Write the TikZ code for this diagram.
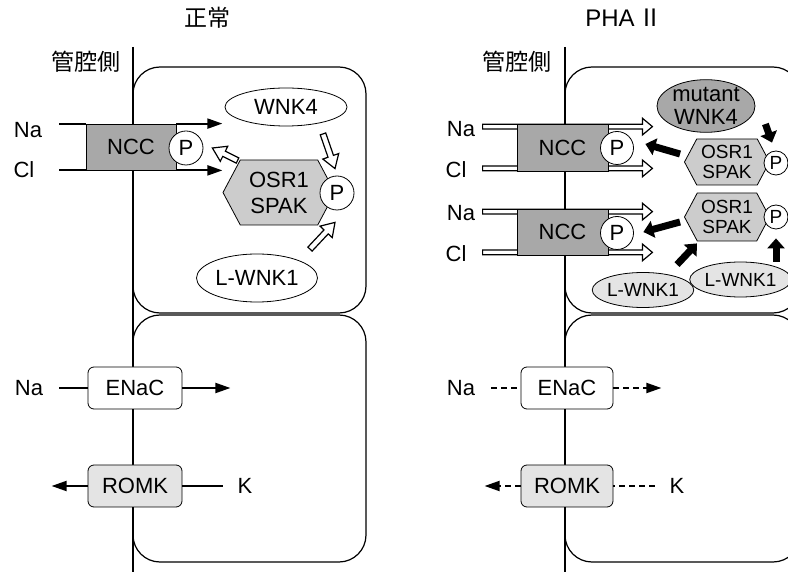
\documentclass[tikz,border=0pt]{standalone}
\usepackage{fontspec}
\setmainfont{Liberation Sans}
\newfontfamily\jpfont{Noto Sans CJK JP}
\usepackage{tikz}
\usetikzlibrary{calc,arrows.meta,shapes.geometric,shapes.symbols,positioning,backgrounds}
\definecolor{nccGray}{RGB}{168,168,168}
\definecolor{osrGray}{RGB}{204,204,204}
\definecolor{paleGray}{RGB}{228,228,228}

% hollow block arrow: shaft half width, head half width, head length, tail, tip
\newcommand\hollowarrow[5]{%
  \coordinate (ha-t) at (#4);
  \coordinate (ha-p) at (#5);
  \coordinate (ha-b) at ($(ha-p)!#3!(ha-t)$);
  \filldraw[fill=white,line width=0.6pt,line join=miter]
    ($(ha-t)!#1!90:(ha-p)$)--($(ha-b)!#1!90:(ha-p)$)--($(ha-b)!#2!90:(ha-p)$)
    --(ha-p)--($(ha-b)!#2!-90:(ha-p)$)--($(ha-b)!#1!-90:(ha-p)$)
    --($(ha-t)!#1!-90:(ha-p)$)--cycle;}

\begin{document}
\begin{tikzpicture}[x=0.5pt,y=-0.5pt,
  font=\fontsize{11}{13}\selectfont,
  jp/.style={font=\fontsize{11.5}{13}\selectfont\jpfont},
  sm/.style={font=\fontsize{9.5}{10}\selectfont},
  cell/.style={draw,rounded corners=13.5pt,line width=0.6pt},
  memb/.style={line width=0.6pt},
  ncc/.style={rectangle,draw,fill=nccGray,minimum width=45pt,minimum height=23pt,inner sep=0},
  pho/.style={circle,draw,fill=white,minimum size=17pt,inner sep=0},
  kin/.style={ellipse,draw,fill=white,inner sep=0,align=center},
  osr/.style={signal,signal to=west and east,signal pointer angle=124,draw,
              fill=osrGray,inner sep=0,align=center},
  chan/.style={rectangle,rounded corners=3pt,draw,minimum width=47pt,minimum height=21pt,inner sep=0},
  ion/.style={line width=1pt},
  ionarr/.style={line width=1pt,-{Triangle[length=7.5pt,width=5pt]}},
  leak/.style={line width=1pt,dash pattern=on 3pt off 2pt},
  fat/.style={line width=3.5pt,-{Triangle[length=5pt,width=8.5pt]}}
]
  \useasboundingbox (0,0) rectangle (788,572);
  \clip (0,0) rectangle (788,572);

  % ── normal ──
  \node[jp](ttlL) at (207,18) {正常};
  \node[jp](lumL) at (86,62) {管腔側};
  \draw[memb](133,47)--(133,572);
  \draw[cell](133,67) rectangle (366,313);
  \draw[cell](133,315) rectangle (366,562);

  \node[ncc](nccL) at (131,147) {NCC};
  \node[pho](pNL) at (186,148) {P};
  \node(naL) at (28,130) {Na};
  \node(clL) at (24,170) {Cl};
  \draw[ion,shorten <=5pt](naL.east |- nccL.north west)--(nccL.north west);
  \draw[ionarr](nccL.north east)--++(46,0);
  \draw[ion,shorten <=8.8pt](clL.east |- nccL.south west)--(nccL.south west);
  \draw[ionarr](nccL.south east)--++(46,0);

  \node[kin,minimum width=61pt,minimum height=19pt](wnkL) at (286,107) {WNK4};
  \node[osr,minimum width=56pt,minimum height=32.5pt](osrL) at (279,192.5) {OSR1\\SPAK};
  \node[pho](pOL) at (337,193) {P};
  \node[kin,minimum width=60.5pt,minimum height=24pt](lwL) at (257,278) {L-WNK1};

  \hollowarrow{1.45pt}{4.2pt}{6.5pt}{$(osrL.west)+(15,-32)$}{$(pNL.east)+(9,0)$}
  \hollowarrow{1.45pt}{4.2pt}{6.5pt}{$(wnkL.south)+(37,7.5)$}{$(pOL.north)+(-2,-7)$}
  \hollowarrow{1.45pt}{4.2pt}{6.5pt}{$(lwL.north)+(53,-4.5)$}{$(pOL.south)+(-2,12)$}

  \node[chan,fill=white](enacL) at (135,388) {ENaC};
  \node[chan,fill=paleGray](romkL) at (135,486) {ROMK};
  \node(naEL) at (29,388) {Na};
  \node(kL) at (245,486) {K};
  \draw[ion,shorten <=4.5pt](naEL)--(enacL);
  \draw[ionarr](enacL.east)--++(48,0);
  \draw[ionarr](romkL.west)--++(-36,0);
  \draw[ion,shorten <=4pt](kL)--(romkL);

  % ── PHA II ──
  \node(ttlR) at (624,18) {\fontsize{12}{13}\selectfont PHA\,{\jpfont Ⅱ}};
  \node[jp](lumR) at (517,62) {管腔側};
  \draw[memb](565,47)--(565,572);
  \draw[cell](565,67) rectangle (800,313);
  \draw[cell](565,315) rectangle (800,562);

  \node[ncc,minimum width=45.5pt,minimum height=23.5pt](nccR1) at (562.5,147.5) {NCC};
  \node[ncc,minimum width=45.5pt,minimum height=23pt](nccR2) at (562.5,232) {NCC};
  \begin{scope}[on background layer]
    \hollowarrow{1.2pt}{4.2pt}{5pt}{$(nccR1.north west)+(-34,3)$}{$(nccR1.north east)+(44,3)$}
    \hollowarrow{1.2pt}{4.2pt}{5pt}{$(nccR1.south west)+(-34,-3)$}{$(nccR1.south east)+(44,-3)$}
    \hollowarrow{1.2pt}{4.2pt}{5pt}{$(nccR2.north west)+(-34,3)$}{$(nccR2.north east)+(44,3)$}
    \hollowarrow{1.2pt}{4.2pt}{5pt}{$(nccR2.south west)+(-34,-3)$}{$(nccR2.south east)+(44,-3)$}
  \end{scope}
  \node[pho,minimum size=16.5pt](pNR1) at (617,148) {P};
  \node[pho,minimum size=16.5pt](pNR2) at (617,233) {P};
  \node(naR1) at (461,129.5) {Na};
  \node(clR1) at (456,170) {Cl};
  \node(naR2) at (461,213.5) {Na};
  \node(clR2) at (456,253.5) {Cl};

  \node[kin,fill=nccGray,minimum width=49pt,minimum height=26pt,
        font=\fontsize{11}{11.5}\selectfont](mutR) at (706,106) {mutant\\WNK4};
  \node[osr,sm,minimum width=42.5pt,minimum height=23pt](osrR1) at (727,162) {OSR1\\SPAK};
  \node[osr,sm,minimum width=42.5pt,minimum height=24pt](osrR2) at (727,217) {OSR1\\SPAK};
  \node[pho,sm,minimum size=12pt](pHR1) at (776,163) {P};
  \node[pho,sm,minimum size=12pt](pHR2) at (776,217) {P};
  \node[kin,sm,fill=paleGray,minimum width=39pt,minimum height=17.5pt](lwR1) at (643,290) {L-WNK1};
  \node[kin,sm,fill=paleGray,minimum width=43.5pt,minimum height=17.5pt](lwR2) at (740.5,279.5) {L-WNK1};

  \draw[fat]($(mutR.east)+(10,18)$)--($(pHR1.north)+(-4,-8)$);
  \draw[fat]($(osrR1.west)+(-4,-8)$)--($(pNR1.east)+(11.5,-4)$);
  \draw[fat]($(osrR2.west)+(-4,5)$)--($(pNR2.east)+(9.5,-1)$);
  \draw[fat]($(lwR1.north)+(34,-7.5)$)--($(osrR2.south)+(-30,2)$);
  \draw[fat]($(lwR2.north)+(35.5,0)$)--($(pHR2.south)+(0,9)$);

  \node[chan,fill=white,minimum width=46pt](enacR) at (567,388) {ENaC};
  \node[chan,fill=paleGray,minimum width=46pt](romkR) at (567,486) {ROMK};
  \node(naER) at (461,388) {Na};
  \node(kR) at (677,486) {K};
  \draw[leak,shorten <=4.5pt](naER)--(enacR);
  \draw[leak,-{Triangle[length=7.5pt,width=5pt]}](enacR.east)--++(48,0);
  \draw[leak,-{Triangle[length=7.5pt,width=5pt]}](romkR.west)--++(-36,0);
  \draw[leak,shorten <=4pt](kR)--(romkR);
\end{tikzpicture}
\end{document}
